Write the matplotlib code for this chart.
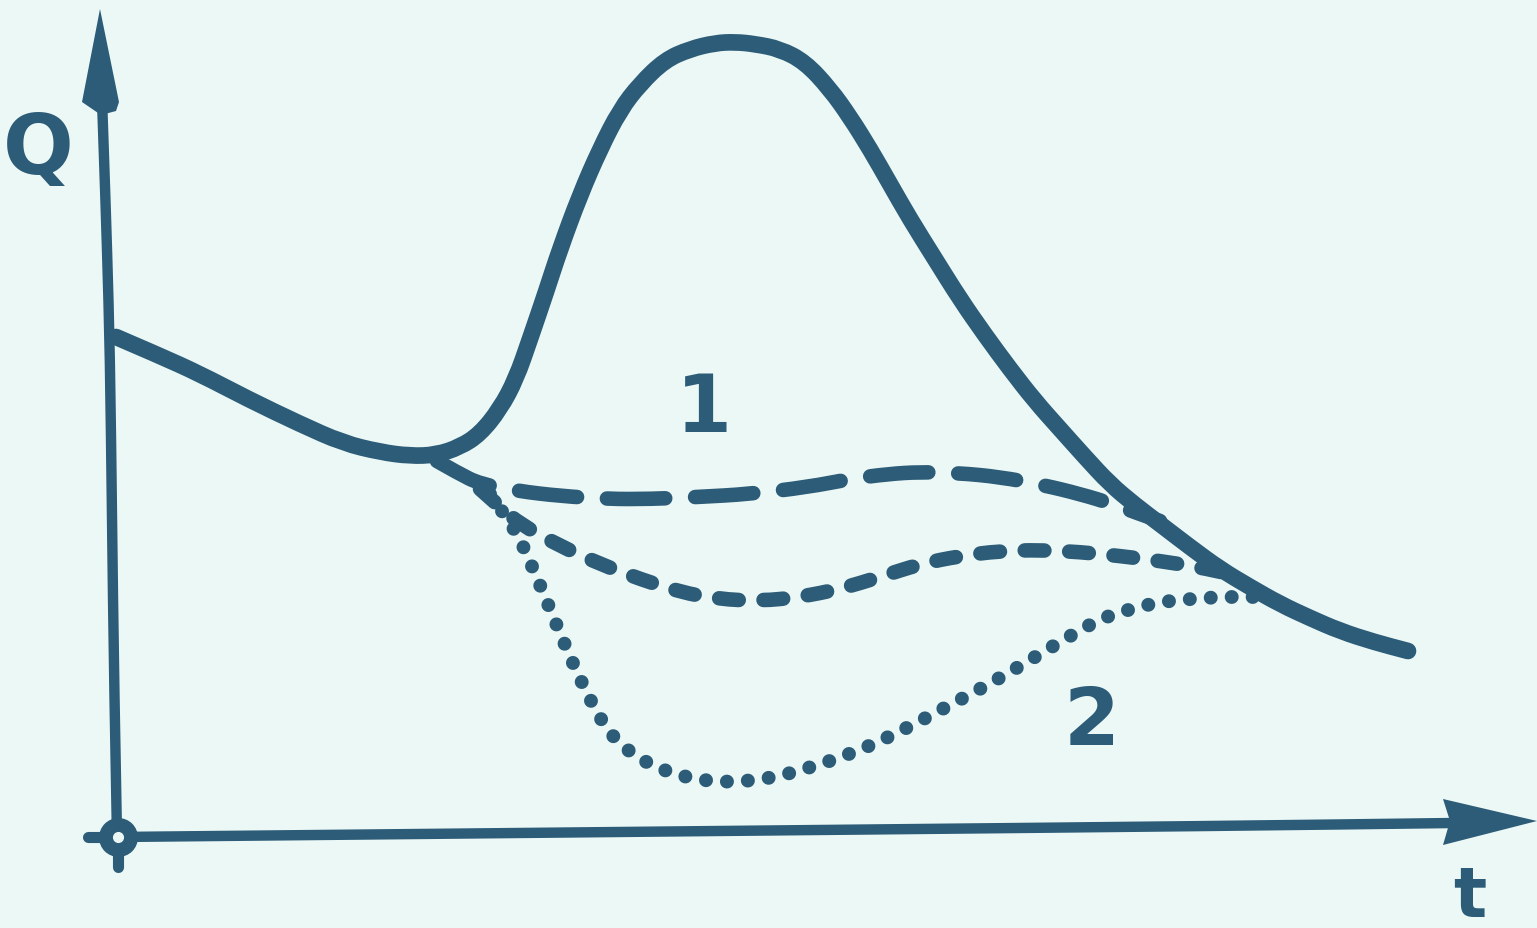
import matplotlib
matplotlib.use("Agg")
from matplotlib import pyplot as plt
from matplotlib.path import Path
from matplotlib.patches import PathPatch
import numpy as np

INK = "#2c5c78"
PAPER = "#ecf8f5"

# main response curve (t, Q)
t_main = [-2, 40, 82, 130, 182, 225, 262, 292, 318, 342, 362, 382, 398,
          412, 428, 442, 462, 482, 502, 522, 547, 572, 597, 617, 637,
          662, 687, 712, 732, 752, 772, 792, 817, 842, 867, 892, 917,
          942, 967, 992, 1017, 1042, 1072, 1102, 1132, 1162, 1192, 1222,
          1256, 1290]
Q_main = [500, 482, 463, 438, 413, 394, 385, 381, 382, 390, 403, 428, 458,
          498, 545, 588, 642, 688, 727, 753, 777, 788, 794, 795, 793,
          788, 775, 748, 720, 688, 653, 618, 578, 538, 502, 468, 436,
          408, 380, 353, 332, 313, 290, 268, 250, 233, 219, 206,
          195, 186]

# curve 1, long dashes
t_c1 = [319, 340, 362, 400, 442, 490, 532, 580, 632, 690, 732, 770,
        802, 840, 882, 925, 962, 995, 1022, 1042]
Q_c1 = [376, 364, 353, 346, 341, 338, 338, 340, 343, 350, 358, 363,
        365, 364, 360, 352, 343, 333, 323, 316]

# curve 1, short dashes
t_c2 = [362, 382, 402, 440, 482, 522, 562, 600, 642, 682, 722, 762,
        802, 842, 882, 922, 962, 1002, 1042, 1080, 1112]
Q_c2 = [348, 330, 313, 292, 273, 258, 245, 238, 236, 240, 248, 260,
        273, 281, 286, 287, 285, 281, 276, 270, 263]

# curve 2, dotted
t_c3 = [372, 387, 402, 417, 432, 447, 462, 477, 492, 515, 542, 570,
        602, 632, 662, 697, 732, 767, 802, 832, 862, 892, 922, 952,
        982, 1012, 1042, 1072, 1102, 1125, 1147]
Q_c3 = [343, 322, 298, 264, 228, 192, 158, 128, 103, 82, 68, 59,
        55, 56, 61, 71, 83, 98, 116, 132, 148, 165, 183, 201,
        218, 228, 235, 238, 240, 240, 240]

# hand-drawn axis lines
t_yaxis = [-1, -4, -6, -8, -11, -14, -16]
Q_yaxis = [0, 160, 320, 480, 590, 680, 738]
t_xaxis = [-1, 300, 700, 1100, 1335]
Q_xaxis = [0, 3, 7, 11, 14]


def smooth_path(xs, ys):
    # quadratic B-spline through the midpoints, knots as control points
    pts = np.column_stack([xs, ys]).astype(float)
    verts = [pts[0]]
    codes = [Path.MOVETO]
    for i in range(1, len(pts) - 1):
        mid = (pts[i] + pts[i + 1]) / 2
        verts += [pts[i], mid]
        codes += [Path.CURVE3, Path.CURVE3]
    verts.append(pts[-1])
    codes.append(Path.LINETO)
    return Path(verts, codes)


def draw(ax, xs, ys, lw, ls="solid"):
    ax.add_patch(PathPatch(smooth_path(xs, ys), fill=False, edgecolor=INK,
                           lw=lw, linestyle=ls, capstyle="round",
                           joinstyle="round"))


fig = plt.figure(figsize=(15.37, 9.29), dpi=100)
fig.patch.set_facecolor(PAPER)
ax = fig.add_axes([0, 0, 1, 1])
ax.set_facecolor(PAPER)
ax.set_xlim(-118, 1419)
ax.set_ylim(-91, 838)
ax.axis("off")

# axes with arrowheads
draw(ax, t_yaxis, Q_yaxis, 7.5)
draw(ax, t_xaxis, Q_xaxis, 7.5)
ax.fill([-36, -18, 1, -2, -17], [735, 828, 735, 726, 722], color=INK, lw=0)
ax.fill([1325, 1419, 1325, 1332], [38, 16, -8, 16], color=INK, lw=0)

# small cross and ring at the origin
ax.plot([-30, 0], [0, 0], color=INK, lw=8, solid_capstyle="round")
ax.plot([0, 0], [0, -30], color=INK, lw=8, solid_capstyle="round")
ax.plot([0], [0], marker="o", ms=27, mfc=INK, mec=INK)
ax.plot([0], [0], marker="o", ms=7, mfc=PAPER, mec=PAPER)

draw(ax, t_main, Q_main, 12)
draw(ax, t_c1, Q_c1, 10.5, (0, (4.0, 2.05)))
draw(ax, t_c2, Q_c2, 10.5, (0, (1.35, 1.7)))
draw(ax, t_c3, Q_c3, 10, (0, (0.01, 1.5)))

txt = dict(color=INK, fontweight="bold", ha="center", va="center",
           family="DejaVu Sans")
ax.text(-80, 688, "Q", fontsize=60, **txt)
ax.text(586, 428, "1", fontsize=58, **txt)
ax.text(974, 115, "2", fontsize=58, **txt)
ax.text(1352, -60, "t", fontsize=50, **txt)

fig.savefig("out.png", dpi=100, facecolor=PAPER)
